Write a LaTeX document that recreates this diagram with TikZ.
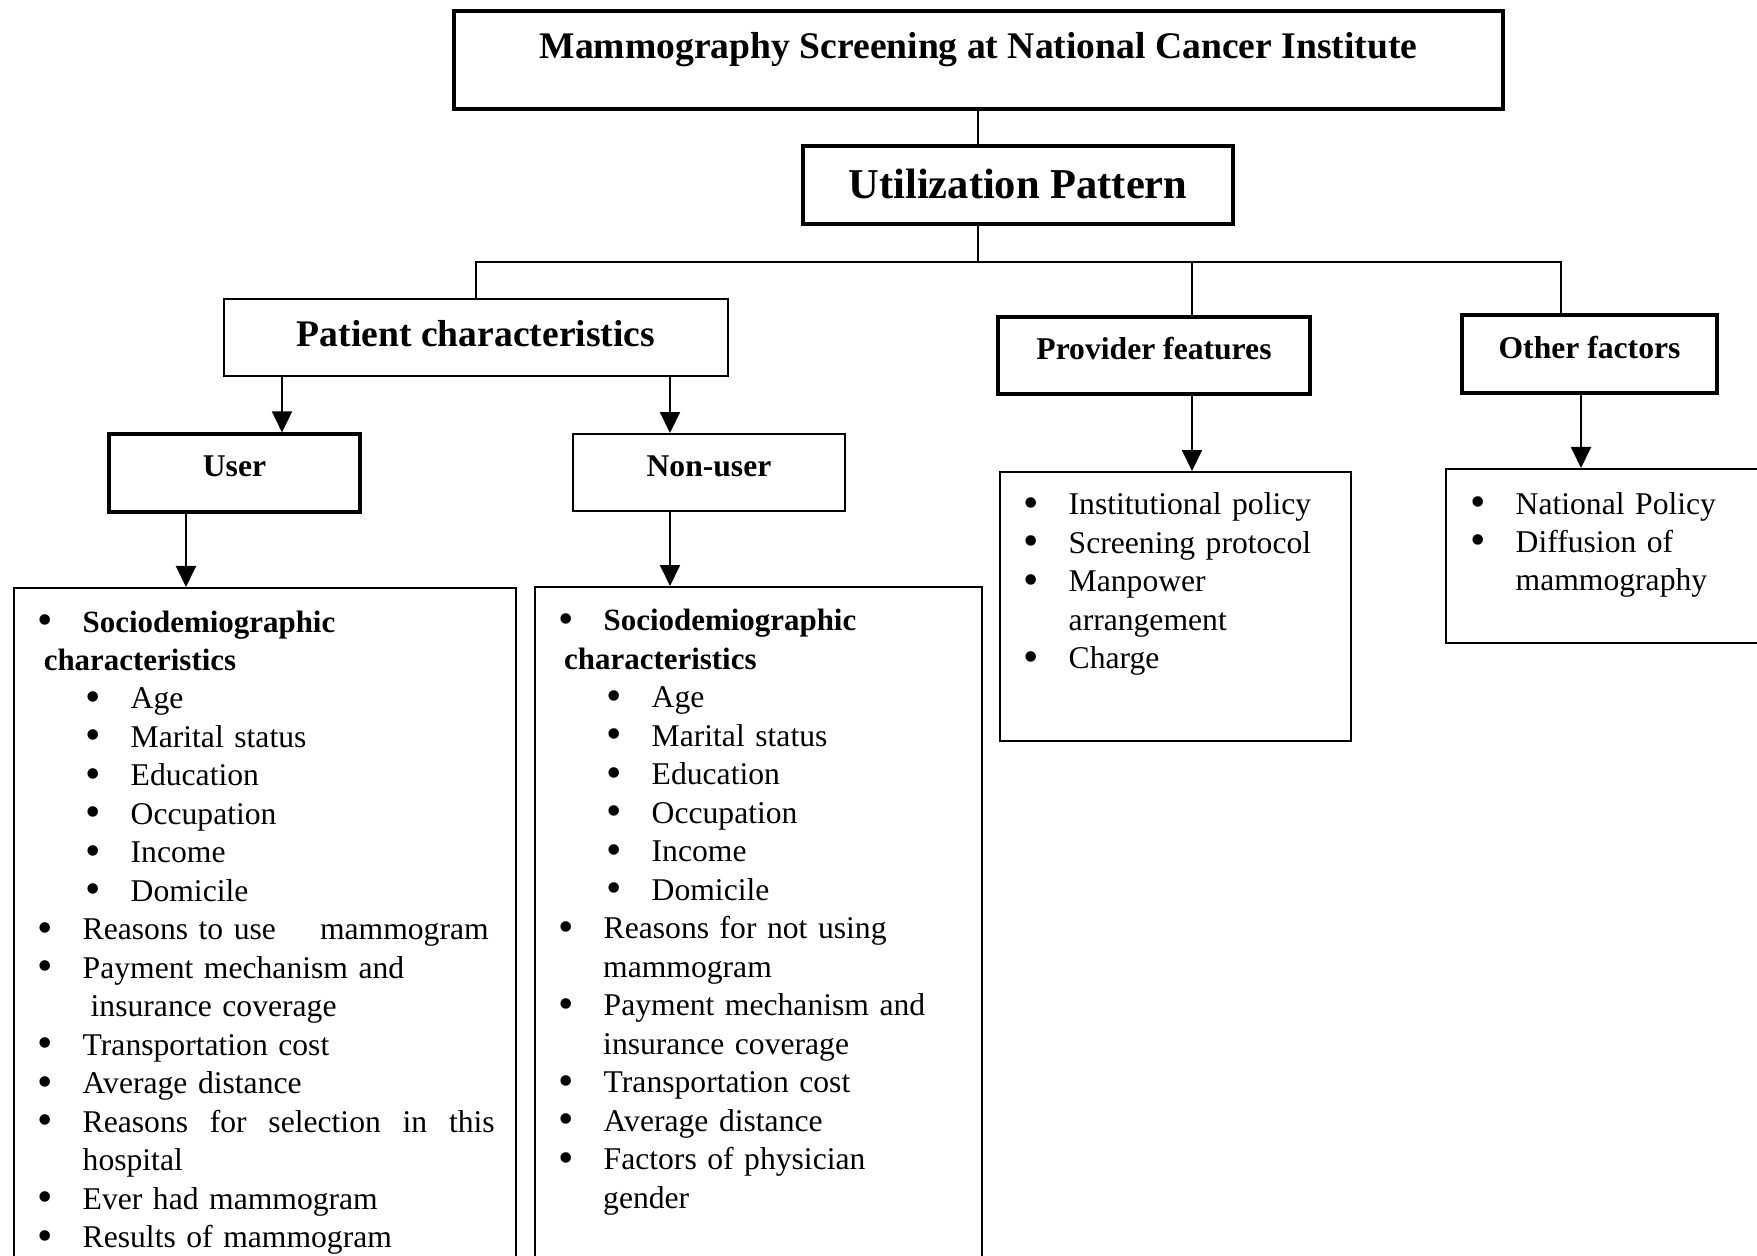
\documentclass[tikz,border=0pt]{standalone}
\usepackage{fontspec}
\setmainfont{Liberation Serif}
\usetikzlibrary{arrows.meta}

\newcommand{\blt}{\smash{\raisebox{-0.7pt}{\fontsize{12.5pt}{12.5pt}\selectfont\textbullet}}}
\newcommand{\itm}[1]{\makebox[0.455cm][l]{\blt}#1}
\newcommand{\subitm}[1]{\hspace*{0.48cm}\itm{#1}}
\newcommand{\hd}[1]{{\fontsize{8.8pt}{10.95pt}\selectfont\bfseries #1}}

\begin{document}
\begin{tikzpicture}[>={Triangle[length=2.1mm,width=2mm]},
    link/.style={draw=black,line width=0.55pt},
    connection/.style={draw=black,line width=0.55pt,->},
    thinBox/.style={rectangle,draw=black,line width=0.55pt,inner sep=0pt},
    thickBox/.style={rectangle,draw=black,line width=0.9pt,inner sep=0pt},
    heavyBox/.style={rectangle,draw=black,line width=1.2pt,inner sep=0pt},
    headFont/.style={font=\fontsize{9pt}{11pt}\selectfont\bfseries},
    listText/.style={anchor=base west,inner sep=0pt,align=left,font=\fontsize{9pt}{10.95pt}\selectfont},
]
	\useasboundingbox (0,0) rectangle (17.57,-12.56);
	\clip (0,0) rectangle (17.57,-12.56);

	% heading boxes
	\node[heavyBox,minimum width=10.49cm,text height=0.48cm,text depth=0.50cm,font=\fontsize{10.7pt}{12pt}\selectfont\bfseries](title) at (9.785,-0.60){Mammography Screening at National Cancer Institute};
	\node[heavyBox,minimum width=4.30cm,text height=0.53cm,text depth=0.25cm,font=\fontsize{12.1pt}{14pt}\selectfont\bfseries](util) at (10.18,-1.85){Utilization Pattern};
	\node[thinBox,minimum width=5.04cm,text height=0.475cm,text depth=0.295cm,font=\fontsize{10.7pt}{13pt}\selectfont\bfseries](patient) at (4.76,-3.375){Patient characteristics};
	\node[thickBox,headFont,minimum width=3.12cm,text height=0.43cm,text depth=0.34cm](provider) at (11.54,-3.555){Provider features};
	\node[thickBox,headFont,minimum width=2.55cm,text height=0.44cm,text depth=0.34cm](other) at (15.895,-3.54){Other factors};
	\node[thickBox,headFont,minimum width=2.51cm,text height=0.425cm,text depth=0.355cm](user) at (2.345,-4.73){User};
	\node[thinBox,headFont,minimum width=2.72cm,text height=0.42cm,text depth=0.35cm](nonuser) at (7.09,-4.725){Non-user};

	% list boxes
	\node[thinBox,anchor=north west,minimum width=5.02cm,minimum height=7.2cm](userlist) at (0.13,-5.87){};
	\node[thinBox,anchor=north west,minimum width=4.47cm,minimum height=7.2cm](nonuserlist) at (5.34,-5.86){};
	\node[thinBox,anchor=north west,minimum width=3.51cm,minimum height=2.69cm](providerlist) at (9.99,-4.71){};
	\node[thinBox,anchor=north west,minimum width=3.4cm,minimum height=1.74cm](otherlist) at (14.45,-4.68){};

	\node[listText,text width=4.8cm](usertext) at ([xshift=0.235cm,yshift=-0.45cm]userlist.north west){%
		\itm{\hd{Sociodemiographic}}\\
		\hspace*{0.066cm}\hd{characteristics}\\
		\subitm{Age}\\
		\subitm{Marital status}\\
		\subitm{Education}\\
		\subitm{Occupation}\\
		\subitm{Income}\\
		\subitm{Domicile}\\
		\itm{\makebox[4.06cm][s]{Reasons to use\hfill mammogram}}\\
		\itm{Payment mechanism and}\\
		\hspace*{0.535cm}insurance coverage\\
		\itm{Transportation cost}\\
		\itm{Average distance}\\
		\itm{\makebox[4.12cm][s]{Reasons\hfill for\hfill selection\hfill in\hfill this}}\\
		\hspace*{0.455cm}hospital\\
		\itm{Ever had mammogram}\\
		\itm{Results of mammogram}};
	\node[listText,text width=4.2cm](nonusertext) at ([xshift=0.235cm,yshift=-0.45cm]nonuserlist.north west){%
		\itm{\hd{Sociodemiographic}}\\
		\hspace*{0.06cm}\hd{characteristics}\\
		\subitm{Age}\\
		\subitm{Marital status}\\
		\subitm{Education}\\
		\subitm{Occupation}\\
		\subitm{Income}\\
		\subitm{Domicile}\\
		\itm{Reasons for not using}\\
		\hspace*{0.45cm}mammogram\\
		\itm{Payment mechanism and}\\
		\hspace*{0.45cm}insurance coverage\\
		\itm{Transportation cost}\\
		\itm{Average distance}\\
		\itm{Factors of physician}\\
		\hspace*{0.45cm}gender};
	\node[listText,text width=3.2cm](providertext) at ([xshift=0.235cm,yshift=-0.44cm]providerlist.north west){%
		\itm{Institutional policy}\\
		\itm{Screening protocol}\\
		\itm{Manpower}\\
		\hspace*{0.455cm}arrangement\\
		\itm{Charge}};
	\node[listText,text width=2.9cm](othertext) at ([xshift=0.245cm,yshift=-0.46cm]otherlist.north west){%
		\itm{National Policy}\\
		\itm{Diffusion of}\\
		\hspace*{0.455cm}mammography};

	% connectors
	\coordinate (hub) at (9.78,-2.62);
	\coordinate (provtap) at (11.92,-2.62);
	\coordinate (othtap) at (15.61,-2.62);
	\coordinate (ux) at (2.82,0);
	\coordinate (nx) at (6.70,0);
	\coordinate (ulx) at (1.86,0);
	\coordinate (ox) at (15.81,0);

	\draw[link](title.south -| hub)--(util.north -| hub);
	\draw[link](util.south -| hub)--(hub);
	\draw[link](patient.north) |- (othtap)--(other.north -| othtap);
	\draw[link](provtap)--(provider.north -| provtap);
	\draw[connection](patient.south -| ux)--(user.north -| ux);
	\draw[connection](patient.south -| nx)--(nonuser.north -| nx);
	\draw[connection](user.south -| ulx)--(userlist.north -| ulx);
	\draw[connection](nonuser.south -| nx)--(nonuserlist.north -| nx);
	\draw[connection](provider.south -| provtap)--(providerlist.north -| provtap);
	\draw[connection](other.south -| ox)--(otherlist.north -| ox);

\end{tikzpicture}
\end{document}
